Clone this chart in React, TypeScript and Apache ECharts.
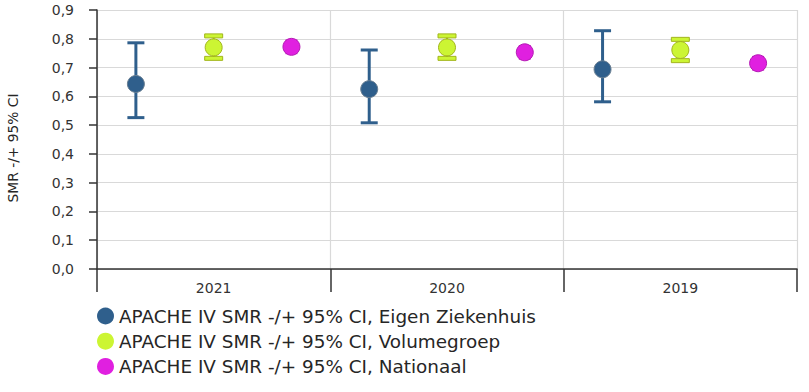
import React, { useEffect, useRef } from "react";
import * as echarts from "echarts";

const categories = ["2021", "2020", "2019"];
const seriesNames = [
  "APACHE IV SMR -/+ 95% CI, Eigen Ziekenhuis",
  "APACHE IV SMR -/+ 95% CI, Volumegroep",
  "APACHE IV SMR -/+ 95% CI, Nationaal",
];
// [center, upper, lower] per category
const eigenZiekenhuis = [
  [0.643, 0.786, 0.526],
  [0.625, 0.761, 0.508],
  [0.694, 0.828, 0.581],
];
const volumegroep = [
  [0.770, 0.810, 0.732],
  [0.770, 0.810, 0.732],
  [0.761, 0.798, 0.724],
];
const nationaal = [
  [0.772, 0.794, 0.750],
  [0.753, 0.775, 0.731],
  [0.715, 0.737, 0.693],
];
const yTicks = [0, 0.1, 0.2, 0.3, 0.4, 0.5, 0.6, 0.7, 0.8, 0.9];

const FONT = "DejaVu Sans, Liberation Sans, Arial, sans-serif";

const styles = [
  { fill: "#2f5f8c", stroke: "#2f5f8c", border: "#6a7f92", offset: -1 / 3, r: 8.5, cap: 17, lw: 3, capH: 3 },
  { fill: "#ccf533", stroke: "#a2b51c", border: "#a2b51c", offset: 0, r: 8.5, cap: 18, lw: 2, capH: 4 },
  { fill: "#e020e0", stroke: "#c01cc0", border: "#b51ab5", offset: 1 / 3, r: 8.5, cap: 12, lw: 2, capH: 2 },
];

export default function App() {
  const ref = useRef<HTMLDivElement>(null);
  useEffect(() => {
    if (!ref.current) return;
    const chart = echarts.init(ref.current, null, { renderer: "svg" });
    const allData = [eigenZiekenhuis, volumegroep, nationaal];
    const series = allData.map((d, si) => {
      const st = styles[si];
      return {
        name: seriesNames[si],
        type: "custom",
        itemStyle: { color: st.fill },
        data: d.map((v, ci) => [ci, v[0], v[1], v[2]]),
        renderItem: (params: any, api: any) => {
          const ci = api.value(0);
          const c = api.coord([ci, api.value(1)]);
          const hi = api.coord([ci, api.value(2)]);
          const lo = api.coord([ci, api.value(3)]);
          const bw = api.size([1, 0])[0];
          const x = c[0] + st.offset * bw;
          const half = st.cap / 2;
          const children: any[] = [
            {
              type: "line",
              shape: { x1: x, y1: hi[1], x2: x, y2: lo[1] },
              style: { stroke: st.stroke, lineWidth: st.lw },
            },
          ];
          if (si === 1) {
            children.push(
              { type: "rect", shape: { x: x - half, y: hi[1] - st.capH / 2, width: st.cap, height: st.capH }, style: { fill: st.fill, stroke: st.stroke, lineWidth: 1 } },
              { type: "rect", shape: { x: x - half, y: lo[1] - st.capH / 2, width: st.cap, height: st.capH }, style: { fill: st.fill, stroke: st.stroke, lineWidth: 1 } }
            );
          } else {
            children.push(
              { type: "line", shape: { x1: x - half, y1: hi[1], x2: x + half, y2: hi[1] }, style: { stroke: st.stroke, lineWidth: st.capH } },
              { type: "line", shape: { x1: x - half, y1: lo[1], x2: x + half, y2: lo[1] }, style: { stroke: st.stroke, lineWidth: st.capH } }
            );
          }
          children.push({
            type: "circle",
            shape: { cx: x, cy: c[1], r: st.r },
            style: { fill: st.fill, stroke: st.border, lineWidth: 1 },
          });
          return { type: "group", children };
        },
      };
    });

    chart.setOption({
      animation: false,
      textStyle: { fontFamily: FONT },
      grid: { left: 97, right: 12, top: 10, bottom: 123 },
      legend: {
        orient: "vertical",
        left: 97,
        top: 307,
        padding: 0,
        icon: "circle",
        itemWidth: 17,
        itemHeight: 17,
        itemGap: 7.2,
        itemStyle: { borderWidth: 0 },
        textStyle: { fontSize: 18.4, color: "#262626", fontFamily: FONT },
        data: seriesNames,
      },
      graphic: [
        {
          type: "text",
          x: 12.5,
          y: 148,
          rotation: Math.PI / 2,
          style: {
            text: "SMR -/+ 95% CI",
            fontSize: 13.8,
            fill: "#262626",
            align: "center",
            verticalAlign: "middle",
            fontFamily: FONT,
          },
        },
      ],
      xAxis: {
        type: "category",
        data: categories,
        axisLine: { lineStyle: { color: "#333", width: 1.5 } },
        axisTick: { show: true, length: 23, lineStyle: { color: "#333", width: 1.5 } },
        axisLabel: { margin: 12, fontSize: 14, color: "#333", fontFamily: FONT },
        splitLine: { show: true, lineStyle: { color: "#d9d9d9", width: 1.2 } },
      },
      yAxis: {
        type: "value",
        min: yTicks[0],
        max: yTicks[yTicks.length - 1],
        interval: 0.1,
        axisLine: { show: true, lineStyle: { color: "#333", width: 1.5 } },
        axisTick: { show: true, length: 8, lineStyle: { color: "#333", width: 1.5 } },
        axisLabel: {
          margin: 23,
          fontSize: 14,
          color: "#333",
          fontFamily: FONT,
          formatter: (v: number) => v.toFixed(1).replace(".", ","),
        },
        splitLine: { show: true, lineStyle: { color: "#d9d9d9", width: 1.2 } },
      },
      series,
    });
    return () => chart.dispose();
  }, []);
  return <div ref={ref} style={{ width: 809, height: 392, position: "absolute", left: 0, top: 0 }} />;
}
